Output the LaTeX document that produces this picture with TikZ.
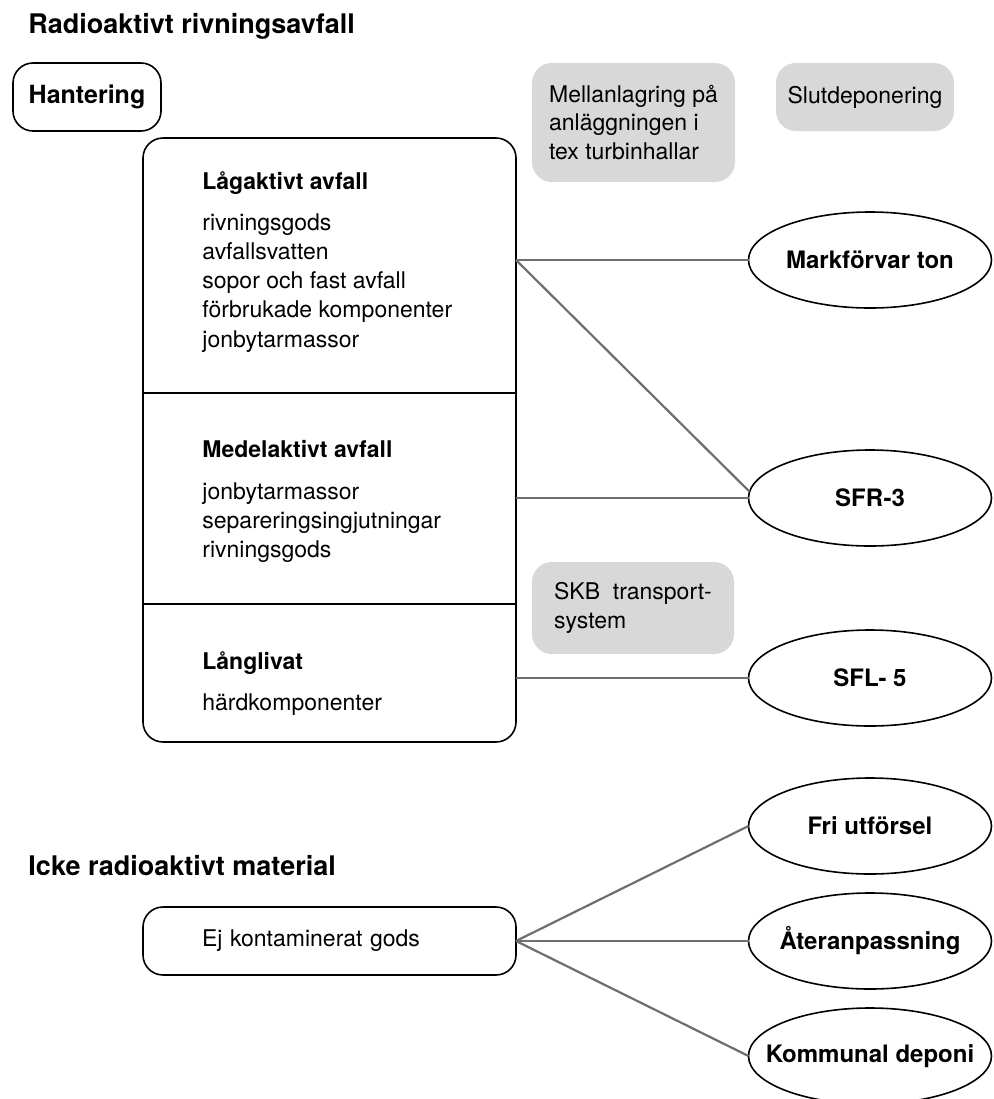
\documentclass[tikz,border=0pt]{standalone}
\usepackage{fontspec}
\setmainfont{TeX Gyre Heros}
\usetikzlibrary{shapes.geometric}
\definecolor{boxgray}{RGB}{216,216,216}
\definecolor{linkgray}{RGB}{110,110,110}
\newcommand\sitename[1]{\makebox[0pt]{#1}}
\begin{document}
\begin{tikzpicture}[x=0.5pt,y=-0.5pt,
    heading/.style={anchor=base west,inner sep=0,font=\fontsize{13.5}{16}\selectfont\bfseries},
    frame/.style={draw,rounded corners=10pt,line width=0.8pt,outer sep=0},
    grey/.style={fill=boxgray,rounded corners=10pt,align=left,inner sep=0,font=\fontsize{11.5}{14.3}\selectfont},
    site/.style={draw,ellipse,line width=0.8pt,minimum width=121.5pt,minimum height=48pt,inner sep=0,outer sep=0,font=\fontsize{12}{14}\selectfont\bfseries},
    sub/.style={anchor=base west,inner sep=0,font=\fontsize{11.5}{14}\selectfont\bfseries},
    item/.style={anchor=base west,inner sep=0,font=\fontsize{11.5}{14}\selectfont},
    link/.style={draw=linkgray,line width=1.1pt}]
	\useasboundingbox (0,0) rectangle (994,1099);
	\node[heading] (title) at (28,33) {Radioaktivt rivningsavfall};
	\node[frame,minimum width=74pt,minimum height=34pt,font=\fontsize{12.5}{15}\selectfont\bfseries] (hant) at (87,97) {Hantering};
	\node[grey,minimum width=101.5pt,minimum height=59.5pt] (lagring) at (633.5,122.5) {Mellanlagring på\\anläggningen i\\tex turbinhallar};
	\node[grey,minimum width=89pt,minimum height=34pt] (slutdep) at (865,97) {Slutdeponering};
	\node[grey,minimum width=101pt,minimum height=46pt] (skb) at (633,608) {SKB\ \ transport-\\system};
	\node[frame,minimum width=186.5pt,minimum height=302pt] (main) at (329.5,440) {};
	\draw[line width=0.8pt] (143,393) -- (516,393);
	\draw[line width=0.8pt] (143,604) -- (516,604);
	\node[sub] (lowhead) at (202,189) {Lågaktivt avfall};
	\foreach \t [count=\i] in {rivningsgods,avfallsvatten,sopor och fast avfall,förbrukade komponenter,jonbytarmassor}
		\node[item] (low\i) at (202,{230+29.25*(\i-1)}) {\t};
	\node[sub] (midhead) at (202,457) {Medelaktivt avfall};
	\foreach \t [count=\i] in {jonbytarmassor,separeringsingjutningar,rivningsgods}
		\node[item] (mid\i) at (202,{499+29*(\i-1)}) {\t};
	\node[sub] (longhead) at (202,669) {Långlivat};
	\node[item] (long1) at (202,710) {härdkomponenter};
	\node[site] (markf) at (870,260) {\sitename{Markförvar ton}};
	\node[site] (sfr) at (870,498) {\sitename{SFR-3}};
	\node[site] (sfl) at (870,678) {\sitename{SFL- 5}};
	\draw[link] (main.east |- markf.west) -- (markf.west);
	\draw[link] (main.east |- markf.west) -- (sfr.177);
	\draw[link] (main.east |- sfr.west) -- (sfr.west);
	\draw[link] (main.east |- sfl.west) -- (sfl.west);
	\node[heading] (icke) at (28,875) {Icke radioaktivt material};
	\node[frame,text width=127.5pt,inner xsep=29.5pt,minimum height=34pt,align=left,font=\fontsize{11.5}{14}\selectfont] (ejbox) at (329.5,941) {Ej kontaminerat gods};
	\node[site] (fri) at (870,826) {\sitename{Fri utförsel}};
	\node[site] (ateran) at (870,941) {\sitename{Återanpassning}};
	\node[site] (kommun) at (870,1056) {\sitename{Kommunal deponi}};
	\foreach \n in {fri,ateran,kommun}
		\draw[link] (ejbox.east) -- (\n.west);
\end{tikzpicture}
\end{document}
